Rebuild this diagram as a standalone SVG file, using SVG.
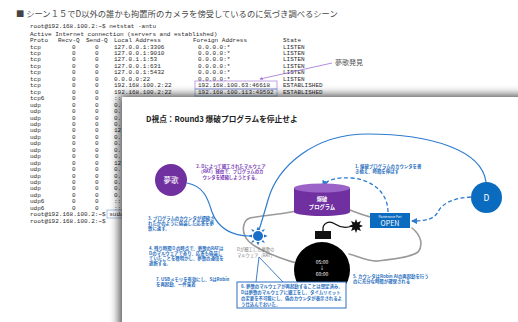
<svg xmlns="http://www.w3.org/2000/svg" width="518" height="322" viewBox="0 0 518 322">
  <style>
    .hdr { font-family: "Noto Sans CJK JP", "Noto Sans", sans-serif; font-size: 8.3px; fill: #444; }
    .term { font-family: "Liberation Mono", "DejaVu Sans Mono", monospace; font-size: 6px; fill: #2a2a2a; }
    .jp { font-family: "Noto Sans CJK JP", "Noto Sans", sans-serif; }
    .note { font-family: "Noto Sans CJK JP", "Noto Sans", sans-serif; font-size: 4.4px; font-weight: bold; fill: #2a6fc0; }
    .pnote { font-family: "Noto Sans CJK JP", "Noto Sans", sans-serif; font-size: 4.4px; font-weight: bold; fill: #7a3db8; }
    .wt { font-family: "Noto Sans CJK JP", "Noto Sans", sans-serif; fill: #fff; text-anchor: middle; }
    .link { fill: none; stroke: #2e7bcf; stroke-width: 1.2; }
    .dash { fill: none; stroke: #2e7bcf; stroke-width: 1.3; stroke-dasharray: 4 2.5; }
  </style>
  <defs>
    <filter id="slideShadow" x="-10%" y="-10%" width="120%" height="120%">
      <feGaussianBlur in="SourceAlpha" stdDeviation="5"/>
      <feOffset dx="-3" dy="-2" result="blur"/>
      <feFlood flood-color="#000" flood-opacity="0.7"/>
      <feComposite in2="blur" operator="in"/>
      <feMerge><feMergeNode/><feMergeNode in="SourceGraphic"/></feMerge>
    </filter>
    <marker id="arrBlue" viewBox="0 0 6 6" refX="5" refY="3" markerWidth="5" markerHeight="5" orient="auto">
      <path d="M0,0 L6,3 L0,6 z" fill="#2e7bcf"/>
    </marker>
    <marker id="arrPurple" viewBox="0 0 6 6" refX="5" refY="3" markerWidth="4" markerHeight="4" orient="auto">
      <path d="M0,0 L6,3 L0,6 z" fill="#a070d8"/>
    </marker>
  </defs>

  <rect width="518" height="322" fill="#fff"/>

  <!-- heading -->
  <text class="hdr" x="16" y="17">■ シーン１５でD以外の誰かも拘置所のカメラを傍受しているのに気づき調べるシーン</text>

  <!-- terminal output -->
  <g id="terminal" class="term">
    <text x="30" y="27.5">root@192.168.100.2:~$ netstat -antu</text>
    <text x="30" y="35.5">Active Internet connection (servers and established)</text>
    <text y="42"><tspan x="30">Proto</tspan><tspan x="58">Recv-Q</tspan><tspan x="86">Send-Q</tspan><tspan x="114">Local Address</tspan><tspan x="193">Foreign Address</tspan><tspan x="283">State</tspan></text>
    <text y="48.5"><tspan x="30">tcp</tspan><tspan x="72">0</tspan><tspan x="95">0</tspan><tspan x="114">127.0.0.1:3306</tspan><tspan x="198">0.0.0.0:*</tspan><tspan x="283">LISTEN</tspan></text>
    <text y="55"><tspan x="30">tcp</tspan><tspan x="72">0</tspan><tspan x="95">0</tspan><tspan x="114">127.0.0.1:9010</tspan><tspan x="198">0.0.0.0:*</tspan><tspan x="283">LISTEN</tspan></text>
    <text y="61.4"><tspan x="30">tcp</tspan><tspan x="72">0</tspan><tspan x="95">0</tspan><tspan x="114">127.0.1.1:53</tspan><tspan x="198">0.0.0.0:*</tspan><tspan x="283">LISTEN</tspan></text>
    <text y="67.9"><tspan x="30">tcp</tspan><tspan x="72">0</tspan><tspan x="95">0</tspan><tspan x="114">127.0.0.1:631</tspan><tspan x="198">0.0.0.0:*</tspan><tspan x="283">LISTEN</tspan></text>
    <text y="74.3"><tspan x="30">tcp</tspan><tspan x="72">0</tspan><tspan x="95">0</tspan><tspan x="114">127.0.0.1:5432</tspan><tspan x="198">0.0.0.0:*</tspan><tspan x="283">LISTEN</tspan></text>
    <text y="80.8"><tspan x="30">tcp</tspan><tspan x="72">0</tspan><tspan x="95">0</tspan><tspan x="114">0.0.0.0:22</tspan><tspan x="198">0.0.0.0:*</tspan><tspan x="283">LISTEN</tspan></text>
    <text y="87.2"><tspan x="30">tcp</tspan><tspan x="72">0</tspan><tspan x="95">0</tspan><tspan x="114">192.168.100.2:22</tspan><tspan x="198">192.168.100.63:46618</tspan><tspan x="283">ESTABLISHED</tspan></text>
    <text y="93.7"><tspan x="30">tcp</tspan><tspan x="72">0</tspan><tspan x="95">0</tspan><tspan x="114">192.168.100.2:22</tspan><tspan x="198">192.168.100.113:49592</tspan><tspan x="283">ESTABLISHED</tspan></text>
    <text y="100.1"><tspan x="30">tcp6</tspan><tspan x="72">0</tspan><tspan x="95">0</tspan><tspan x="114">::</tspan></text>
    <text y="106.6"><tspan x="30">udp</tspan><tspan x="72">0</tspan><tspan x="95">0</tspan><tspan x="114">0.</tspan></text>
    <text y="113"><tspan x="30">udp</tspan><tspan x="72">0</tspan><tspan x="95">0</tspan><tspan x="114">0.</tspan></text>
    <text y="119.5"><tspan x="30">udp</tspan><tspan x="72">0</tspan><tspan x="95">0</tspan><tspan x="114">0.</tspan></text>
    <text y="125.9"><tspan x="30">udp</tspan><tspan x="72">0</tspan><tspan x="95">0</tspan><tspan x="114">0.</tspan></text>
    <text y="132.4"><tspan x="30">udp</tspan><tspan x="72">0</tspan><tspan x="95">0</tspan><tspan x="114">12</tspan></text>
    <text y="138.8"><tspan x="30">udp</tspan><tspan x="72">0</tspan><tspan x="95">0</tspan><tspan x="114">0.</tspan></text>
    <text y="145.3"><tspan x="30">udp</tspan><tspan x="72">0</tspan><tspan x="95">0</tspan><tspan x="114">0.</tspan></text>
    <text y="151.7"><tspan x="30">udp</tspan><tspan x="72">0</tspan><tspan x="95">0</tspan><tspan x="114">0.</tspan></text>
    <text y="158.2"><tspan x="30">udp</tspan><tspan x="72">0</tspan><tspan x="95">0</tspan><tspan x="114">0.</tspan></text>
    <text y="164.6"><tspan x="30">udp</tspan><tspan x="72">0</tspan><tspan x="95">0</tspan><tspan x="114">12</tspan></text>
    <text y="171.1"><tspan x="30">udp</tspan><tspan x="72">0</tspan><tspan x="95">0</tspan><tspan x="114">0.</tspan></text>
    <text y="177.5"><tspan x="30">udp</tspan><tspan x="72">0</tspan><tspan x="95">0</tspan><tspan x="114">0.</tspan></text>
    <text y="184"><tspan x="30">udp</tspan><tspan x="72">0</tspan><tspan x="95">0</tspan><tspan x="114">0.</tspan></text>
    <text y="190.4"><tspan x="30">udp</tspan><tspan x="72">0</tspan><tspan x="95">0</tspan><tspan x="114">0.</tspan></text>
    <text y="196.9"><tspan x="30">udp</tspan><tspan x="72">0</tspan><tspan x="95">0</tspan><tspan x="114">0.</tspan></text>
    <text y="203.3"><tspan x="30">udp6</tspan><tspan x="72">0</tspan><tspan x="95">0</tspan><tspan x="114">::</tspan></text>
    <text y="209.8"><tspan x="30">udp6</tspan><tspan x="72">0</tspan><tspan x="95">0</tspan><tspan x="114">::</tspan></text>
    <text x="30" y="216.2">root@192.168.100.2:~$ sudo</text>
    <text x="30" y="222.7">root@192.168.100.2:~$</text>
    <!-- highlighted connections -->
    <rect x="195" y="81" width="82" height="8" fill="none" stroke="#b48ee0" stroke-width="0.8"/>
    <rect x="195" y="89" width="82" height="7" fill="none" stroke="#8fb5e0" stroke-width="0.8"/>
    <rect x="107" y="210" width="16" height="8" fill="none" stroke="#8fb5e0" stroke-width="0.8"/>
  </g>

  <!-- annotation on the terminal -->
  <g id="found-note">
    <line x1="332" y1="63" x2="260" y2="79" stroke="#a070d8" stroke-width="0.8" marker-end="url(#arrPurple)"/>
    <text class="jp" x="335" y="64.5" font-size="7" fill="#555">夢歌発見</text>
  </g>

  <!-- overlaid slide -->
  <rect x="122" y="97" width="420" height="240" fill="#fff" filter="url(#slideShadow)"/>

  <text class="jp" x="146" y="121.5" font-size="7.7" font-weight="bold" fill="#222">D視点：Round3 爆破プログラムを停止せよ</text>

  <!-- vehicle outline -->
  <path d="M296,211 C285,214 265,215 250,218 C243,220 242,230 245,236 C248,244 262,251 278,257 C286,260 292,262 297,263 M349,254 C358,256 368,262 378,261 C392,259 410,258 418,252 C423,246 422,236 412,228 M350,210 C358,213 365,216 371,217" fill="none" stroke="#9a9a9a" stroke-width="1.6" stroke-linejoin="round" stroke-linecap="round"/>

  <!-- connectors -->
  <g id="connectors">
    <path class="link" d="M187,183 C204,186 208,199 212,212 C218,229 233,236 250,236"/>
    <path class="link" d="M486,182 C482,150 430,134 368,134 C312,134 277,168 268,200 C264,214 261,224 259,230"/>
    <path class="dash" d="M388,212 C388,194 374,180 352,178 C336,177 326,180 323,186" marker-end="url(#arrBlue)"/>
    <path class="dash" d="M471,197 C451,198 441,205 438,212 C434,219 426,221 412,221" marker-end="url(#arrBlue)"/>
  </g>

  <!-- 夢歌 -->
  <g id="node-muka">
    <circle cx="171" cy="180" r="16" fill="#7030a0"/>
    <text class="wt" x="171" y="182.7" font-size="7.5">夢歌</text>
  </g>

  <!-- D -->
  <g id="node-d">
    <circle cx="486.5" cy="197.5" r="15.5" fill="#0b6bbf"/>
    <text class="wt" x="486.5" y="200.7" font-size="8.5" font-family="Liberation Sans, sans-serif">D</text>
  </g>

  <!-- 爆破プログラム -->
  <g id="node-program">
    <path d="M294,188 V212 A28,4 0 0 0 350,212 V188 z" fill="#7030a0"/>
    <ellipse cx="322" cy="188" rx="28" ry="4.5" fill="#9b63c8"/>
    <text class="wt" x="322" y="201" font-size="5.3" font-weight="bold">爆破</text>
    <text class="wt" x="322" y="208.5" font-size="5.3" font-weight="bold">プログラム</text>
  </g>

  <!-- Maintenance Port -->
  <g id="node-port">
    <rect x="370" y="213" width="40" height="15" fill="#0b6bbf"/>
    <text class="wt" x="390" y="217.5" font-size="2.8" font-family="Liberation Sans, sans-serif">Maintenance Port</text>
    <text class="wt" x="390" y="225.8" font-size="7" font-family="Liberation Sans, sans-serif">OPEN</text>
  </g>

  <!-- RAT -->
  <g id="node-rat">
    <circle cx="258" cy="236" r="5" fill="#1a6fc9"/>
    <g fill="#1a6fc9">
      <path d="M256.5,230 L258,226.5 L259.5,230 z"/>
      <path d="M256.5,242 L258,245.5 L259.5,242 z"/>
      <path d="M252,234.5 L248.5,236 L252,237.5 z"/>
      <path d="M264,234.5 L267.5,236 L264,237.5 z"/>
      <path d="M253,232 L251,229 L254.3,230.2 z"/>
      <path d="M263,232 L265,229 L261.7,230.2 z"/>
      <path d="M253,240 L251,243 L254.3,241.8 z"/>
      <path d="M263,240 L265,243 L261.7,241.8 z"/>
    </g>
    <text class="jp" x="237" y="250.5" font-size="4.3" fill="#777">Dが細工した夢歌の</text>
    <text class="jp" x="237" y="256.5" font-size="4.3" fill="#777">マルウェア（RAT）</text>
  </g>

  <!-- bomb -->
  <g id="node-bomb">
    <path d="M323,231 C322,223 329,220 335,224 C341,228 347,228 352,226" fill="none" stroke="#111" stroke-width="1.3"/>
    <path d="M356,219 L357.3,222.6 L361,221 L359.4,224.6 L363,226 L359.4,227.4 L361,231 L357.3,229.4 L356,233 L354.7,229.4 L351,231 L352.6,227.4 L349,226 L352.6,224.6 L351,221 L354.7,222.6 z" fill="#111"/>
    <rect x="315" y="231" width="16" height="8" fill="#111"/>
    <circle cx="322" cy="270" r="28" fill="#000"/>
    <text class="wt" x="322" y="263.5" font-size="5" font-family="Liberation Sans, sans-serif">05:00</text>
    <text class="wt" x="322" y="269" font-size="5" font-family="Liberation Sans, sans-serif">↓</text>
    <text class="wt" x="322" y="275.5" font-size="5" font-family="Liberation Sans, sans-serif">60:00</text>
  </g>

  <!-- note 6 callout -->
  <g id="note-6">
    <rect x="237" y="282" width="109" height="26" fill="#fff" stroke="#2a6fc0" stroke-width="1"/>
    <polyline points="256,282 259,257 283,282" fill="none" stroke="#2a6fc0" stroke-width="0.9"/>
    <text class="note" x="241" y="288">6. 夢歌のマルウェアが再起動することは想定済み。</text>
    <text class="note" x="241" y="294">Dは夢歌のマルウェアに細工をし、タイムリミット</text>
    <text class="note" x="241" y="300">の変更を不可能にし、偽のカウンタが表示されるよ</text>
    <text class="note" x="241" y="305.5">う仕込んでおいた。</text>
  </g>

  <!-- numbered notes -->
  <g id="note-2" class="pnote" text-anchor="middle">
    <text x="231" y="167.5">2. Dによって細工されたマルウェア</text>
    <text x="231" y="173">（RAT）経由で、プログラムのカ</text>
    <text x="231" y="178.5">ウンタを短縮しようとする。</text>
  </g>
  <g id="note-1" class="note">
    <text x="355" y="167.5">1. 爆破プログラムのカウンタを書</text>
    <text x="355" y="173">き換え、時間を伸ばす</text>
  </g>
  <g id="note-3" class="note">
    <text x="148" y="219.5">3. プログラムのカウンタが短縮さ</text>
    <text x="148" y="224.8">れたかのように偽装した応答を夢</text>
    <text x="148" y="230">歌に返す。</text>
  </g>
  <g id="note-4" class="note">
    <text x="149" y="249.5">4. 残り時間０の時点で、夢歌のRATは</text>
    <text x="149" y="254.5">Dのマルウェアであり、応答も偽装し</text>
    <text x="149" y="259.5">ていたことを種明かし、夢歌の通信を</text>
    <text x="149" y="264.5">遮断する。</text>
  </g>
  <g id="note-7" class="note">
    <text x="156" y="280.5">7. USBメモリを有効にし、SはRobin</text>
    <text x="156" y="285.5">を再起動、一件落着</text>
  </g>
  <g id="note-5" class="note">
    <text x="353" y="277.5">5. カウンタはRobin AIの再起動を行う</text>
    <text x="353" y="283">のに充分な時間が確保される</text>
  </g>
</svg>
